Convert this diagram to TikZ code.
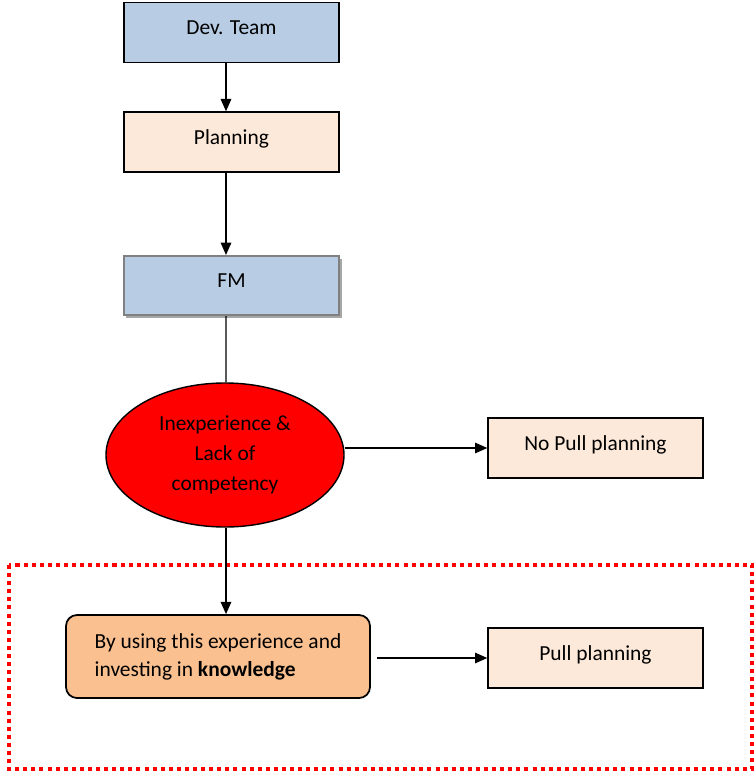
\documentclass[tikz,border=0pt]{standalone}
\usepackage{fontspec}
\setmainfont{Carlito}
\usetikzlibrary{arrows.meta,shapes.geometric}
\definecolor{boxblue}{HTML}{B8CCE4}
\definecolor{boxpeach}{HTML}{FDE9D9}
\definecolor{boxorange}{HTML}{FAC090}
\tikzset{
  flowbox/.style={draw=black,line width=0.8pt,minimum width=4.3cm,minimum height=1.2cm,
    text height=8.5pt,text depth=6pt,font=\fontsize{12.2}{14}\selectfont},
  flowarrow/.style={line width=0.8pt,-{Triangle[length=7pt,width=6pt]}},
}
\begin{document}
\begin{tikzpicture}
\useasboundingbox (0,0) rectangle (15.1,-15.42);
% dotted frame round the lower part
\draw[red,line width=2.3pt,dash pattern=on 2.3pt off 2.3pt] (0.18,-11.3) rectangle (15.04,-15.38);
% shadow under FM
\fill[gray!70] (2.52,-5.17) rectangle (6.84,-6.36);
\node[flowbox,fill=boxblue] (dev) at (4.63,-0.65) {Dev. Team};
\node[flowbox,fill=boxpeach] (plan) at (4.63,-2.84) {Planning};
\node[flowbox,fill=boxblue,draw=gray,line width=1.2pt,minimum height=1.18cm] (fm) at (4.63,-5.71) {FM};
\node[ellipse,draw=black,line width=0.8pt,fill=red,minimum width=4.76cm,minimum height=2.88cm,
      align=center,font=\fontsize{12.2}{17}\selectfont] (lack) at (4.5,-9.1) {Inexperience \&\\Lack of\\competency};
\node[flowbox,fill=boxpeach] (nopull) at (11.91,-8.96) {No Pull planning};
\node[flowbox,fill=boxorange,rounded corners=0.22cm,line width=1pt,minimum width=6.08cm,minimum height=1.66cm,
      text height=,text depth=,align=left,font=\fontsize{12.2}{16}\selectfont] (invest) at (4.36,-13.13) {By using this experience and\\investing in \textbf{knowledge}};
\node[flowbox,fill=boxpeach] (pull) at (11.91,-13.16) {Pull planning};
\draw[flowarrow] ([xshift=-0.11cm]dev.south) -- ([xshift=-0.11cm]plan.north);
\draw[flowarrow] ([xshift=-0.11cm]plan.south) -- ([xshift=-0.11cm]fm.north);
\draw[line width=0.8pt] ([xshift=-0.11cm]fm.south) -- ([xshift=0.02cm]lack.north);
\draw[flowarrow] ([xshift=0.02cm]lack.south) -- ([xshift=0.16cm]invest.north);
\draw[flowarrow] (lack.east |- nopull) -- (nopull.west);
\draw[flowarrow] ([xshift=0.12cm]invest.east |- pull) -- (pull.west);
\end{tikzpicture}
\end{document}
